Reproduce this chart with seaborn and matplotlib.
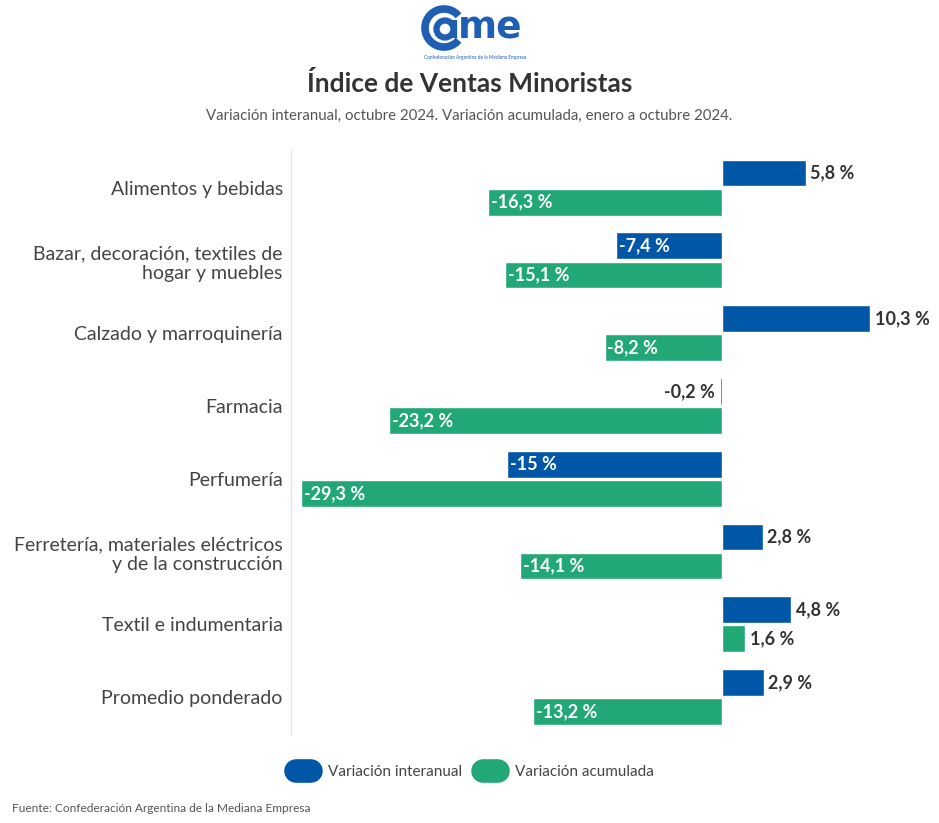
import numpy as np
import pandas as pd
import seaborn as sns
import matplotlib.pyplot as plt
from matplotlib.patches import Arc, Circle
from matplotlib.lines import Line2D

categorias = [
    "Alimentos y bebidas",
    "Bazar, decoración, textiles de\nhogar y muebles",
    "Calzado y marroquinería",
    "Farmacia",
    "Perfumería",
    "Ferretería, materiales eléctricos\ny de la construcción",
    "Textil e indumentaria",
    "Promedio ponderado",
]
interanual = [5.8, -7.4, 10.3, -0.2, -15.0, 2.8, 4.8, 2.9]
acumulada = [-16.3, -15.1, -8.2, -23.2, -29.3, -14.1, 1.6, -13.2]
series = ["Variación interanual", "Variación acumulada"]
colores = ["#0057a8", "#22a877"]

df = pd.DataFrame({
    "Rubro": categorias * 2,
    "Serie": [series[0]] * len(categorias) + [series[1]] * len(categorias),
    "Valor": interanual + acumulada,
})

sns.set_theme(style="white")
plt.rcParams["font.family"] = ["Lato", "DejaVu Sans"]

fig = plt.figure(figsize=(9.39, 8.23), dpi=100)
ax = fig.add_axes([0.31, 0.107, 0.689, 0.711])

sns.barplot(data=df, y="Rubro", x="Valor", hue="Serie", orient="h",
            palette=colores, width=0.8, gap=0.08, ax=ax, legend=False,
            saturation=1)

ax.set_xlim(-30, 15)
ax.set_ylim(7.52, -0.52)
ax.set_xlabel("")
ax.set_ylabel("")
ax.set_xticks([])
ax.tick_params(axis="y", length=0, pad=6, labelsize=14, labelcolor="#444444")
for s in ["top", "right", "bottom"]:
    ax.spines[s].set_visible(False)
ax.spines["left"].set_color("#e6e6e6")
ax.spines["left"].set_linewidth(1)


def fmt(v):
    if float(v).is_integer():
        return f"{int(v)} %"
    return f"{v:.1f} %".replace(".", ",")


for cont in ax.containers:
    for bar in cont:
        if bar.get_x() < 0:
            v = bar.get_x()
        else:
            v = bar.get_width()
        y = bar.get_y() + bar.get_height() / 2
        if v >= 0:
            ax.text(v + 0.3, y, fmt(v), ha="left", va="center",
                    fontsize=13, fontweight="bold", color="#333333")
        elif abs(v) < 3:
            ax.text(v - 0.3, y, fmt(v), ha="right", va="center",
                    fontsize=13, fontweight="bold", color="#333333")
        else:
            ax.text(v + 0.2, y, fmt(v), ha="left", va="center",
                    fontsize=13, fontweight="bold", color="white")

# titulos
fig.text(0.5, 0.898, "Índice de Ventas Minoristas", ha="center", va="center",
         fontsize=19, fontweight="bold", color="#333333")
fig.text(0.5, 0.859, "Variación interanual, octubre 2024. Variación acumulada, enero a octubre 2024.",
         ha="center", va="center", fontsize=10.8, color="#555555")
fig.text(0.013, 0.018, "Fuente: Confederación Argentina de la Mediana Empresa",
         ha="left", va="center", fontsize=8.6, color="#555555")

# leyenda
handles = [Line2D([0], [0], color=c, lw=17, solid_capstyle="round") for c in colores]
fig.legend(handles, series, loc="center", bbox_to_anchor=(0.506, 0.062), ncol=2,
           frameon=False, fontsize=11, handlelength=0.95, handletextpad=1.15,
           columnspacing=1.35, labelcolor="#444444")

# logo
lax = fig.add_axes([420 / 939, 1 - 64 / 823, 110 / 939, 60 / 823])
lax.set_xlim(0, 110)
lax.set_ylim(0, 60)
lax.axis("off")
azul = "#1e5fb4"
lax.add_patch(Arc((24, 36), 38, 38, theta1=40, theta2=320, lw=5.5, color=azul))
lax.add_patch(Circle((25, 35), 8.5, fill=False, lw=4.5, color=azul))
lax.plot([33.5, 33.5], [26, 44], color=azul, lw=4.5, solid_capstyle="butt")
lax.text(38, 35, "me", ha="left", va="center", fontsize=27, fontweight="bold",
         color=azul, family=["DejaVu Sans"])
lax.text(55, 7, "Confederación Argentina de la Mediana Empresa", ha="center",
         va="center", fontsize=3.4, color=azul)

fig.savefig("out.png", dpi=100, facecolor="white")
